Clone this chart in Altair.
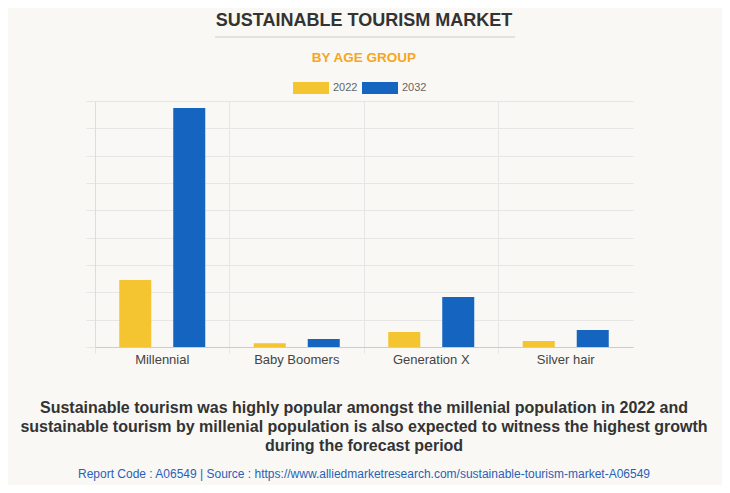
import altair as alt
import pandas as pd

categories = ["Millennial", "Baby Boomers", "Generation X", "Silver hair"]
years = ["2022", "2032"]
values_2022 = [2.45, 0.14, 0.55, 0.22]
values_2032 = [8.74, 0.29, 1.83, 0.62]
y_ticks = [0, 1, 2, 3, 4, 5, 6, 7, 8, 9]
colors = ["#F4C530", "#1565C0"]

title_text = "SUSTAINABLE TOURISM MARKET"
subtitle_text = "BY AGE GROUP"
caption_lines = [
    "Sustainable tourism was highly popular amongst the millenial population in 2022 and",
    "sustainable tourism by millenial population is also expected to witness the highest growth",
    "during the forecast period",
]
source_text = "Report Code : A06549  |  Source : https://www.alliedmarketresearch.com/sustainable-tourism-market-A06549"

rows = []
for c, a, b in zip(categories, values_2022, values_2032):
    rows.append({"category": c, "year": years[0], "value": a})
    rows.append({"category": c, "year": years[1], "value": b})
df = pd.DataFrame(rows)

W, H = 538, 246
FONT = "Liberation Sans"

bars = alt.Chart(df).mark_bar().encode(
    x=alt.X("category:N", sort=categories, title=None,
            scale=alt.Scale(paddingInner=0, paddingOuter=0),
            axis=alt.Axis(bandPosition=0, grid=True, gridColor="#e6e6e6", ticks=True,
                          tickSize=6, tickColor="#e6e6e6", domainColor="#cccccc",
                          labelAngle=0, labelFont=FONT, labelFontSize=13,
                          labelColor="#444444", labelPadding=0)),
    xOffset=alt.XOffset("year:N", sort=years,
                        scale=alt.Scale(paddingInner=0.407, paddingOuter=0.449)),
    y=alt.Y("value:Q", title=None, scale=alt.Scale(domain=[0, 9], nice=False),
            axis=alt.Axis(values=y_ticks, labels=False, grid=True, gridColor="#e6e6e6",
                          tickSize=9, tickColor="#e6e6e6", domainColor="#dddddd")),
    color=alt.Color("year:N", sort=years, scale=alt.Scale(domain=years, range=colors),
                    legend=alt.Legend(title=None, orient="none", legendX=198, legendY=-31,
                                      direction="horizontal",
                                      symbolType="M-1,-0.333H1V0.333H-1Z", symbolSize=1296,
                                      symbolStrokeWidth=0, symbolOpacity=1,
                                      labelFont=FONT, labelFontSize=11, labelColor="#666666",
                                      labelOffset=4, columnPadding=4, padding=0)),
)

def txt(text, x, y, size, color, weight="normal", **kw):
    return alt.Chart().mark_text(text=text, font=FONT, fontSize=size, color=color,
                                 fontWeight=weight, align="center", baseline="middle", **kw).encode(
        x=alt.value(x), y=alt.value(y))

title = txt(title_text, W / 2, -80, 18, "#333333", "bold")
rule = alt.Chart().mark_rule(color="#cccccc", strokeWidth=1).encode(
    x=alt.value(120), x2=alt.value(420), y=alt.value(-64))
subtitle = txt(subtitle_text, W / 2, -43, 13.5, "#F5A623", "bold")
caption = txt(caption_lines, W / 2, 307, 16, "#333333", "bold", lineHeight=19)
source = txt(source_text, W / 2, 373, 12, "#2B5FB8")

chart = alt.layer(bars, title, rule, subtitle, caption, source).properties(
    width=W, height=H,
    autosize=alt.AutoSizeParams(type="none"),
    padding={"left": 87, "top": 93, "right": 89, "bottom": 138},
    background="#F9F8F4",
).configure_view(stroke=None)

chart.save("out.html", embed_options={"renderer": "svg", "actions": False})
